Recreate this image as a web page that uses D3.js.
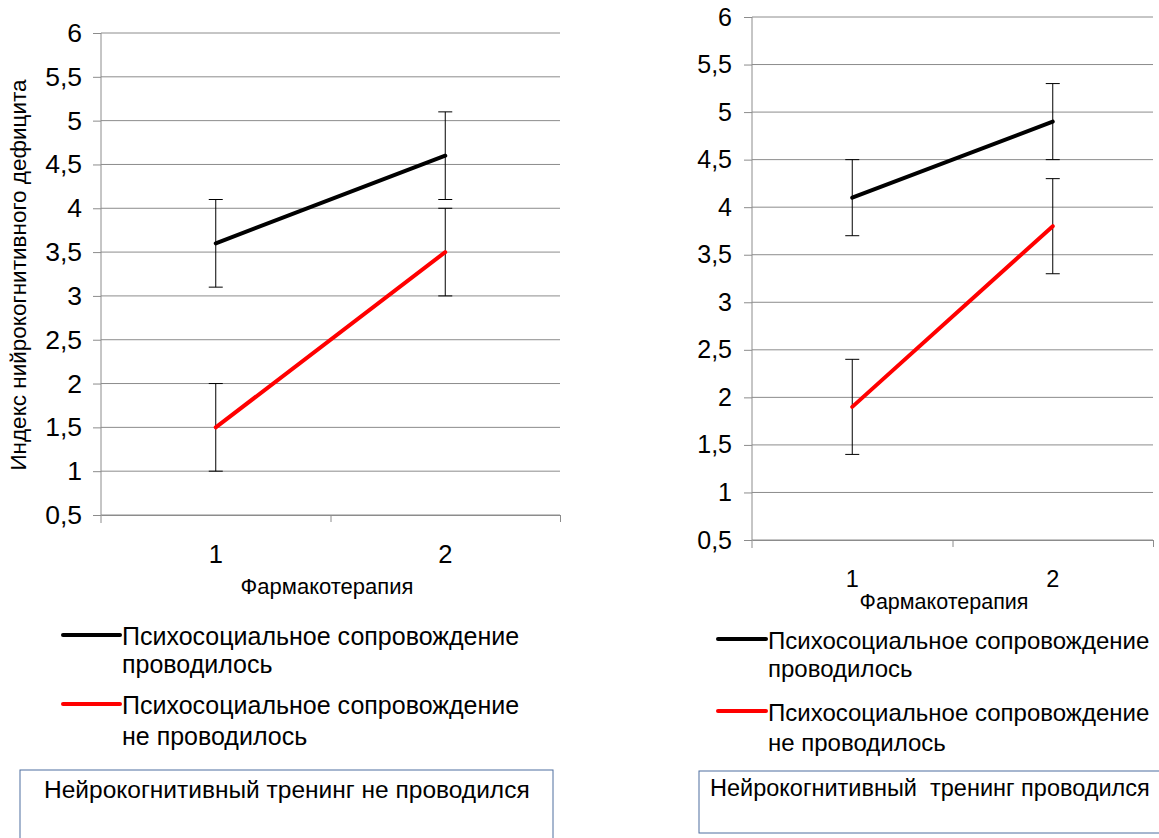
<!DOCTYPE html>
<html>
<head>
<meta charset="utf-8">
<script src="https://cdn.jsdelivr.net/npm/d3@7"></script>
<style>
  body { margin: 0; background: #fff; }
  text { font-family: "Liberation Sans", Arial, sans-serif; fill: #000; }
</style>
</head>
<body>
<svg></svg>
<script>
// data
const groups = [1, 2];
const yTicks = [0.5, 1, 1.5, 2, 2.5, 3, 3.5, 4, 4.5, 5, 5.5, 6];

const leftSupport = [3.6, 4.6];
const leftSupportErr = [0.5, 0.5];
const leftNoSupport = [1.5, 3.5];
const leftNoSupportErr = [0.5, 0.5];

const rightSupport = [4.1, 4.9];
const rightSupportErr = [0.4, 0.4];
const rightNoSupport = [1.9, 3.8];
const rightNoSupportErr = [0.5, 0.5];

const seriesNames = [
    ["Психосоциальное сопровождение", "проводилось"],
    ["Психосоциальное сопровождение", "не проводилось"]
];
const seriesColors = ["#000000", "#ff0000"];

const svg = d3.select("svg")
    .attr("width", 1159)
    .attr("height", 838);

const fmt = d => String(d).replace(".", ",");

function drawPanel(p) {
    const g = svg.append("g");

    const x = d3.scaleLinear().domain([0.5, 2.5]).range([p.left, p.right]);
    const y = d3.scaleLinear().domain([0.5, 6]).range([p.bottom, p.top]);

    // gridlines
    g.selectAll(".grid").data(yTicks).join("line")
        .attr("x1", p.left).attr("x2", p.right)
        .attr("y1", d => y(d)).attr("y2", d => y(d))
        .attr("stroke", "#8c8c8c").attr("stroke-width", 1);

    // y axis
    const yAxis = g.append("g")
        .attr("transform", `translate(${p.left},0)`)
        .call(d3.axisLeft(y).tickValues(yTicks).tickFormat(fmt).tickSize(8).tickPadding(p.tickPad));
    yAxis.select(".domain").attr("stroke", "#8c8c8c").attr("d", `M0,${p.top}V${p.bottom + 8}`);
    yAxis.selectAll(".tick line").attr("stroke", "#8c8c8c");
    yAxis.selectAll(".tick text").attr("font-size", p.yFont).attr("fill", "#000")
        .attr("font-family", "Liberation Sans, Arial, sans-serif");

    // x axis (category boundaries as ticks)
    const xAxis = g.append("g")
        .attr("transform", `translate(0,${p.bottom})`)
        .call(d3.axisBottom(x).tickValues([1.5, 2.5]).tickFormat("").tickSize(7).tickSizeOuter(0));
    xAxis.select(".domain").attr("stroke", "#8c8c8c");
    xAxis.selectAll(".tick line").attr("stroke", "#8c8c8c");

    g.selectAll(".xlab").data(groups).join("text")
        .attr("x", d => x(d)).attr("y", p.xLabY)
        .attr("text-anchor", "middle")
        .attr("font-size", p.xFont)
        .text(d => d);

    g.append("text")
        .attr("x", p.xTitleX).attr("y", p.xTitleY)
        .attr("text-anchor", "middle")
        .attr("font-size", p.titleFont)
        .text("Фармакотерапия");

    // series lines with error bars
    const line = d3.line().x((d, i) => x(groups[i])).y(d => y(d));
    p.series.forEach((s, k) => {
        s.vals.forEach((v, i) => {
            const cx = x(groups[i]);
            g.append("line")
                .attr("x1", cx).attr("x2", cx)
                .attr("y1", y(v - s.err[i])).attr("y2", y(v + s.err[i]))
                .attr("stroke", "#000").attr("stroke-width", 1);
            [v - s.err[i], v + s.err[i]].forEach(e => {
                g.append("line")
                    .attr("x1", cx - 7).attr("x2", cx + 7)
                    .attr("y1", y(e)).attr("y2", y(e))
                    .attr("stroke", "#000").attr("stroke-width", 1);
            });
        });
        g.append("path")
            .datum(s.vals)
            .attr("d", line)
            .attr("fill", "none")
            .attr("stroke", seriesColors[k])
            .attr("stroke-width", 4)
            .attr("stroke-linecap", "round");
    });

    // legend
    p.legendY.forEach((ly, k) => {
        g.append("line")
            .attr("x1", p.legX1).attr("x2", p.legX2)
            .attr("y1", ly).attr("y2", ly)
            .attr("stroke", seriesColors[k]).attr("stroke-width", 4)
            .attr("stroke-linecap", "round");
        seriesNames[k].forEach((t, j) => {
            g.append("text")
                .attr("x", p.legX2 + 2).attr("y", ly + 10 + j * p.legGap[k])
                .attr("font-size", p.legFont)
                .text(t);
        });
    });

    // caption box
    g.append("rect")
        .attr("x", p.box[0]).attr("y", p.box[1])
        .attr("width", p.box[2]).attr("height", p.box[3])
        .attr("fill", "none").attr("stroke", "#4f6f9f").attr("stroke-width", 1);
    g.append("text")
        .attr("x", p.boxTextX).attr("y", p.box[1] + p.capDy)
        .attr("font-size", p.capFont)
        .style("white-space", "pre")
        .text(p.caption);

    return g;
}

const leftPanel = drawPanel({
    left: 101, right: 560, top: 33, bottom: 515,
    yFont: 26.5, tickPad: 11, xFont: 25.5, titleFont: 22,
    xLabY: 563, xTitleX: 327, xTitleY: 594,
    series: [
        { vals: leftSupport, err: leftSupportErr },
        { vals: leftNoSupport, err: leftNoSupportErr }
    ],
    legendY: [635, 704], legX1: 63, legX2: 120, legGap: [28, 31], legFont: 25,
    box: [20, 770, 533, 80], boxTextX: 44, capFont: 24.5, capDy: 28,
    caption: "Нейрокогнитивный тренинг не проводился"
});

// y axis title on left panel only
leftPanel.append("text")
    .attr("transform", "translate(26,275) rotate(-90)")
    .attr("text-anchor", "middle")
    .attr("font-size", 22.5)
    .text("Индекс нийрокогнитивного дефицита");

drawPanel({
    left: 752, right: 1153, top: 17, bottom: 540,
    yFont: 25, tickPad: 12, xFont: 23.5, titleFont: 21.5,
    xLabY: 587, xTitleX: 944, xTitleY: 609,
    series: [
        { vals: rightSupport, err: rightSupportErr },
        { vals: rightNoSupport, err: rightNoSupportErr }
    ],
    legendY: [639, 711], legX1: 718, legX2: 766, legGap: [28, 30], legFont: 24,
    box: [699, 771, 470, 62], boxTextX: 710, capFont: 23.5, capDy: 25,
    caption: "Нейрокогнитивный  тренинг проводился"
});
</script>
</body>
</html>
